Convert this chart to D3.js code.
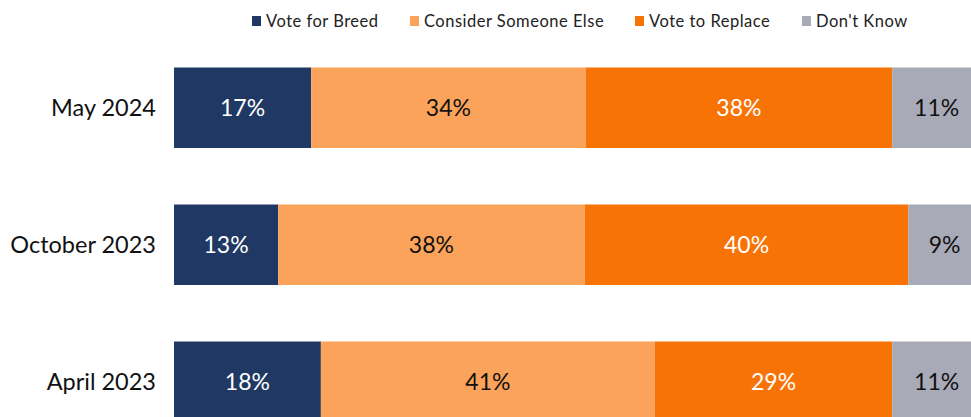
<!DOCTYPE html>
<html>
<head>
<meta charset="utf-8">
<script src="https://cdn.jsdelivr.net/npm/d3@7"></script>
<style>
  body { margin: 0; background: #fff; }
  svg { display: block; font-family: Lato, 'Open Sans', sans-serif; }
</style>
</head>
<body>
<div id="chart"></div>
<script>
var periods = ['May 2024', 'October 2023', 'April 2023']
var seriesNames = ['Vote for Breed', 'Consider Someone Else', 'Vote to Replace', "Don't Know"]
var voteForBreed = [17, 12.9, 18.2]
var considerElse = [34, 38, 41.4]
var voteToReplace = [38, 40.1, 29.4]
var dontKnow = [11, 9, 11]

var colors = ['#1f3864', '#fba35a', '#f87306', '#a9aab8']
var labelColors = ['#fff', '#111', '#fff', '#111']

var width = 971
var height = 417

var rows = periods.map(function(p, i) {
  return { period: p, values: [voteForBreed[i], considerElse[i], voteToReplace[i], dontKnow[i]] }
})

var svg = d3.select('#chart').append('svg').attr('width', width).attr('height', height)

// 100% runs a little past the right edge, the picture is cropped there
var x = d3.scaleLinear().domain([0, 100]).range([174, 981])
var y = d3.scaleBand().domain(periods).range([39.25, 39.25 + 411])
  .paddingInner(0.4124).paddingOuter(0.2062)

var stack = d3.stack().keys([0, 1, 2, 3]).value(function(d, k) { return d.values[k] })
var layers = stack(rows)

var groups = svg.selectAll('g.layer')
  .data(layers)
  .enter()
  .append('g')
  .attr('class', 'layer')
  .attr('fill', function(d, i) { return colors[i] })

groups.selectAll('rect')
  .data(function(d) { return d })
  .enter()
  .append('rect')
  .attr('x', function(d) { return x(d[0]) })
  .attr('y', function(d) { return y(d.data.period) })
  .attr('width', function(d) { return x(d[1]) - x(d[0]) })
  .attr('height', y.bandwidth())

groups.selectAll('text')
  .data(function(d, i) { return d.map(function(s) { return { s: s, k: i } }) })
  .enter()
  .append('text')
  .attr('x', function(d) { return (x(d.s[0]) + x(d.s[1])) / 2 })
  .attr('y', function(d) { return y(d.s.data.period) + y.bandwidth() / 2 })
  .attr('dy', '0.35em')
  .attr('text-anchor', 'middle')
  .style('font-size', '23px')
  .style('fill', function(d) { return labelColors[d.k] })
  .text(function(d) { return Math.round(d.s[1] - d.s[0]) + '%' })

// category labels
svg.append('g').selectAll('text')
  .data(periods)
  .enter()
  .append('text')
  .attr('x', 156)
  .attr('y', function(d) { return y(d) + y.bandwidth() / 2 })
  .attr('dy', '0.35em')
  .attr('text-anchor', 'end')
  .style('font-size', '23.5px')
  .style('fill', '#111')
  .text(function(d) { return d })

// legend
var legendX = [252, 410, 635, 802]
var legend = svg.append('g').selectAll('g')
  .data(seriesNames)
  .enter()
  .append('g')
  .attr('transform', function(d, i) { return 'translate(' + legendX[i] + ',21)' })

legend.append('rect')
  .attr('x', 0).attr('y', -5)
  .attr('width', 9).attr('height', 10)
  .attr('fill', function(d, i) { return colors[i] })

legend.append('text')
  .attr('x', 14)
  .attr('dy', '0.35em')
  .style('font-size', '16.5px')
  .style('letter-spacing', '0.5px')
  .style('fill', '#222')
  .text(function(d) { return d })
</script>
</body>
</html>
